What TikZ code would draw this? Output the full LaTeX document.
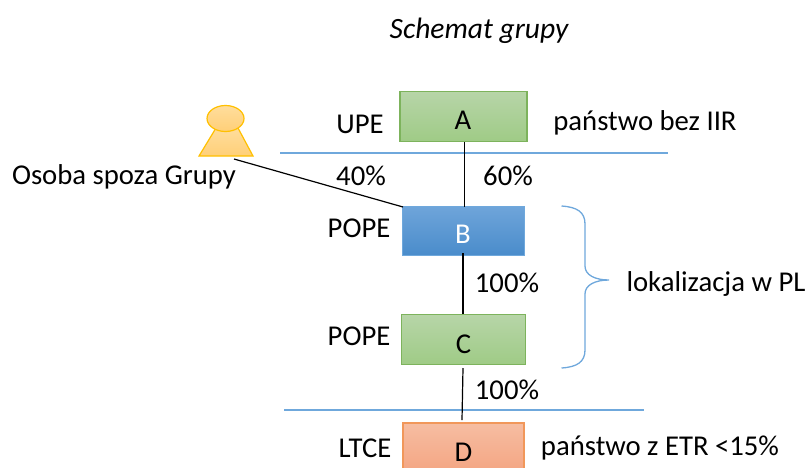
\documentclass[tikz,border=0pt]{standalone}
\usepackage{fontspec}
\setmainfont{Carlito}
\usetikzlibrary{shapes.geometric}
\definecolor{gt}{HTML}{B7D5A8}\definecolor{gb}{HTML}{9FCB86}\definecolor{gl}{HTML}{7DB35C}
\definecolor{bt}{HTML}{6FA5DA}\definecolor{bb}{HTML}{4A8CCB}\definecolor{bl}{HTML}{6FA8DC}
\definecolor{ot}{HTML}{F6BDA2}\definecolor{ob}{HTML}{F4A582}\definecolor{ol}{HTML}{ED7D31}
\definecolor{yt}{HTML}{FFDD9C}\definecolor{yb}{HTML}{FFCF78}\definecolor{yl}{HTML}{FFC000}
\definecolor{rulec}{HTML}{6FA8DC}
\tikzset{
 lbl/.style={font=\fontsize{28.7pt}{32pt}\selectfont,text=black,inner sep=0pt},
 boxbase/.style={minimum width=#1pt,line width=1.2pt,inner sep=0pt},
 greenbox/.style={boxbase=#1,draw=gl,top color=gt,bottom color=gb,minimum height=50pt},
 bluebox/.style={boxbase=#1,draw=bl,top color=bt,bottom color=bb,minimum height=49pt,line width=.6pt},
 orangebox/.style={boxbase=#1,draw=ol!80,top color=ot,bottom color=ob,minimum height=50pt},
 link/.style={draw=black,line width=1.2pt},
 rulel/.style={draw=rulec,line width=1.2pt}
}
\begin{document}
\begin{tikzpicture}[x=1pt,y=-1pt]
\useasboundingbox (0,0) rectangle (808,467);
\clip (0,0) rectangle (808,467);
\node[lbl,font=\fontsize{29.5pt}{32pt}\selectfont\itshape] (title) at (479,31) {Schemat grupy};
% person
\draw[draw=yl,line width=1.2pt,top color=yt,bottom color=yb] (216,128) -- (238,128) -- (253,156) -- (199,156) -- cycle;
\node[ellipse,minimum width=37pt,minimum height=26pt,inner sep=0pt,draw=yl,line width=1.2pt,top color=yt,bottom color=yb] (head) at (225.5,118.5) {};
\node[lbl] (person) at (124,177) {Osoba spoza Grupy};
% boxes
\node[greenbox=127] (A) at (463.5,116.5) {};
\node[bluebox=122] (B) at (463,230.5) {};
\node[greenbox=124] (C) at (463.5,339.5) {};
\node[orangebox=121] (D) at (463.5,448) {};
\node[lbl] (At) at (463,120) {A};
\node[lbl,text=white] (Bt) at (463,234) {B};
\node[lbl] (Ct) at (463.5,344) {C};
\node[lbl] (Dt) at (463.5,452) {D};
% rules
\coordinate (r1a) at (280,153); \coordinate (r1b) at (668,153);
\coordinate (r2a) at (284,410); \coordinate (r2b) at (644,410);
\draw[rulel] (r1a) -- (r1b);
\draw[rulel] (r2a) -- (r2b);
% connectors
\coordinate (p1) at (234,159); \coordinate (p2) at (403,207);
\coordinate (a1) at (464.5,142); \coordinate (a2) at (464.5,207);
\coordinate (b1) at (463,253); \coordinate (b2) at (463,314);
\coordinate (c1) at (463,368); \coordinate (c2) at (462,420);
\draw[link] (p1) -- (p2);
\draw[link] (a1) -- (a2);
\draw[link] (b1) -- (b2);
\draw[link] (c1) -- (c2);
% labels
\node[lbl] (upe) at (360,124) {UPE};
\node[lbl] (pope1) at (359,228) {POPE};
\node[lbl] (pope2) at (359,336) {POPE};
\node[lbl] (ltce) at (365,448) {LTCE};
\node[lbl] (p40) at (361,176) {40\%};
\node[lbl] (p60) at (508,176) {60\%};
\node[lbl] (p100a) at (507,283) {100\%};
\node[lbl] (p100b) at (507,390) {100\%};
\node[lbl] (s1) at (645,123) {państwo bez IIR};
\node[lbl] (s2) at (716,284) {lokalizacja w PL};
\node[lbl] (s3) at (660,448) {państwo z ETR <15\%};
% brace
\coordinate (bs) at (561.5,206); \coordinate (btip) at (609,280); \coordinate (be) at (561.5,368);
\draw[rulel,line width=1.3pt] (bs) .. controls (577,207) and (585,212) .. (585,224) -- (585,266)
  .. controls (585,275) and (595,280) .. (btip)
  .. controls (595,280) and (585,285) .. (585,294) -- (585,350)
  .. controls (585,362) and (577,367) .. (be);
\end{tikzpicture}
\end{document}
